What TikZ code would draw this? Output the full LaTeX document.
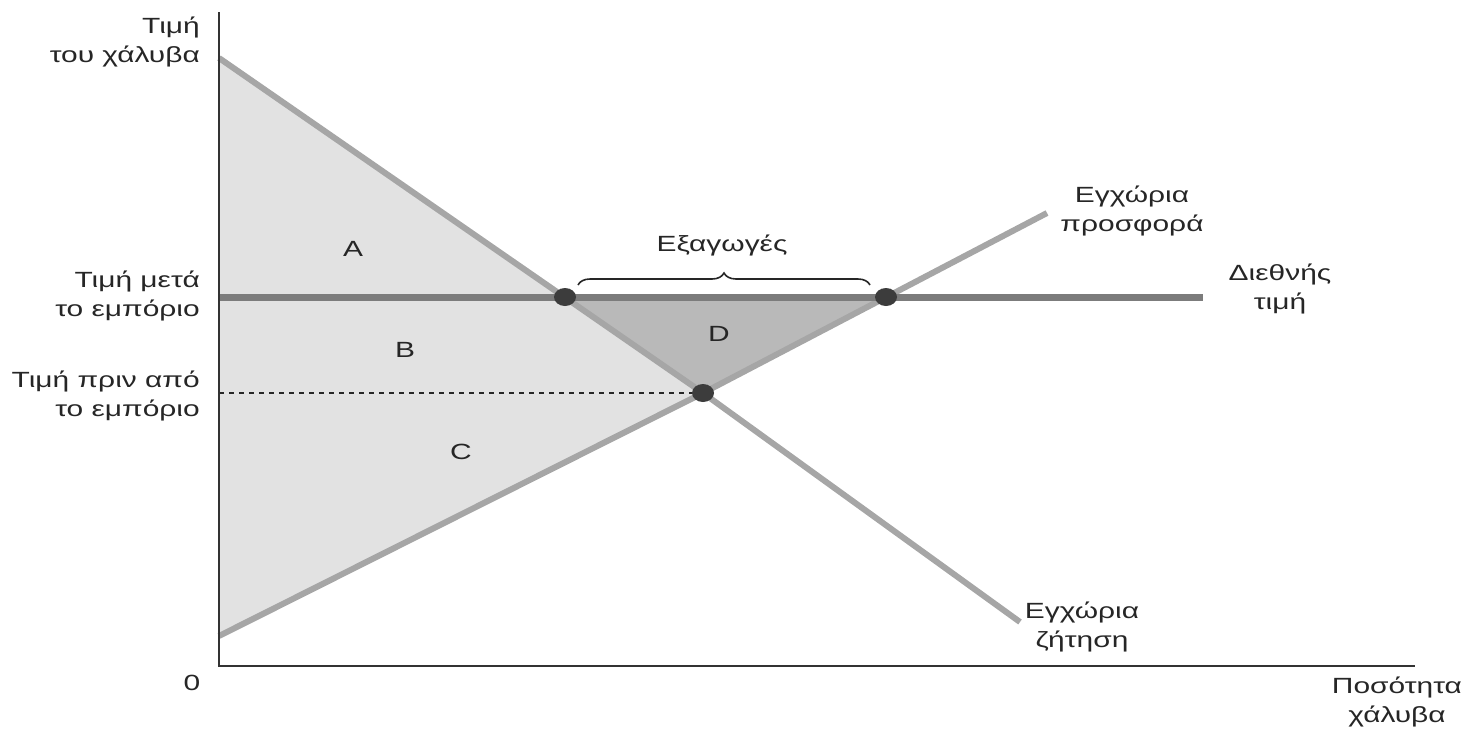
\documentclass[tikz,border=0pt]{standalone}
\usepackage{fontspec}
\setmainfont{Liberation Sans}[FakeStretch=1.36]
\usetikzlibrary{decorations.pathreplacing,shapes.geometric}
\definecolor{fillA}{HTML}{E2E2E2}
\definecolor{fillD}{HTML}{B9B9B9}
\definecolor{curve}{HTML}{A6A6A6}
\definecolor{world}{HTML}{7C7C7C}
\definecolor{dotc}{HTML}{3C3C3C}
\begin{document}
\begin{tikzpicture}[x=1pt,y=-1pt,
  lbl/.style={font=\fontsize{22}{29}\selectfont, text=black!85, inner sep=0pt},
  curvestyle/.style={draw=curve, line width=6pt},
  dotstyle/.style={fill=dotc, ellipse, minimum width=22pt, minimum height=18pt, inner sep=0pt},
  ]
\useasboundingbox (0,0) rectangle (1465,729);
% key points
\coordinate (Dtop) at (219,58);
\coordinate (Dend) at (1020,622);
\coordinate (Sbot) at (219,636);
\coordinate (Send) at (1047,213);
\coordinate (E0) at (703,393);
\coordinate (Ed) at (565,297);
\coordinate (Es) at (886,297);
\coordinate (Wl) at (219,297);
\coordinate (Wr) at (1203,297);
\coordinate (Pl) at (219,393);
\coordinate (O) at (219,666);
\coordinate (Ytop) at (219,12);
\coordinate (Xend) at (1415,666);
% areas
\fill[fillA] (Dtop) -- (E0) -- (Sbot) -- cycle;
\fill[fillD] (Ed) -- (Es) -- (E0) -- cycle;
% curves
\draw[curvestyle] (Dtop) -- (E0) -- (Dend);
\draw[curvestyle] (Sbot) -- (E0) -- (Send);
\draw[world, line width=7pt] (Wl) -- (Wr);
\draw[black!85, line width=2.5pt, dash pattern=on 5pt off 5pt] (Pl) -- (E0);
% axes
\draw[black!80, line width=2pt] (Ytop) -- (O) -- (Xend);
% dots
\node[dotstyle] (dE0) at (E0) {};
\node[dotstyle] (dEd) at (Ed) {};
\node[dotstyle] (dEs) at (Es) {};
% brace
\draw[black!85, line width=1.6pt, decorate, decoration={brace, amplitude=12pt}] (578,285) -- (870,285);
% labels
\node[lbl, anchor=east, align=right] (ylab) at (200,42) {Τιμή\\του χάλυβα};
\node[lbl, anchor=east, align=right] (lw) at (200,296) {Τιμή μετά\\το εμπόριο};
\node[lbl, anchor=east, align=right] (lp) at (200,396) {Τιμή πριν από\\το εμπόριο};
\node[lbl] (zero) at (192,683) {0};
\node[lbl] (A) at (353,249) {A};
\node[lbl] (B) at (405,350) {B};
\node[lbl] (C) at (461,452) {C};
\node[lbl] (D) at (719,334) {D};
\node[lbl] (exp) at (722,245) {Εξαγωγές};
\node[lbl, align=center] (sup) at (1132,211) {Εγχώρια\\προσφορά};
\node[lbl, align=center] (wp) at (1280,289) {Διεθνής\\τιμή};
\node[lbl, align=center] (dem) at (1082,627) {Εγχώρια\\ζήτηση};
\node[lbl, align=center] (qty) at (1397,702) {Ποσότητα\\χάλυβα};
\end{tikzpicture}
\end{document}
